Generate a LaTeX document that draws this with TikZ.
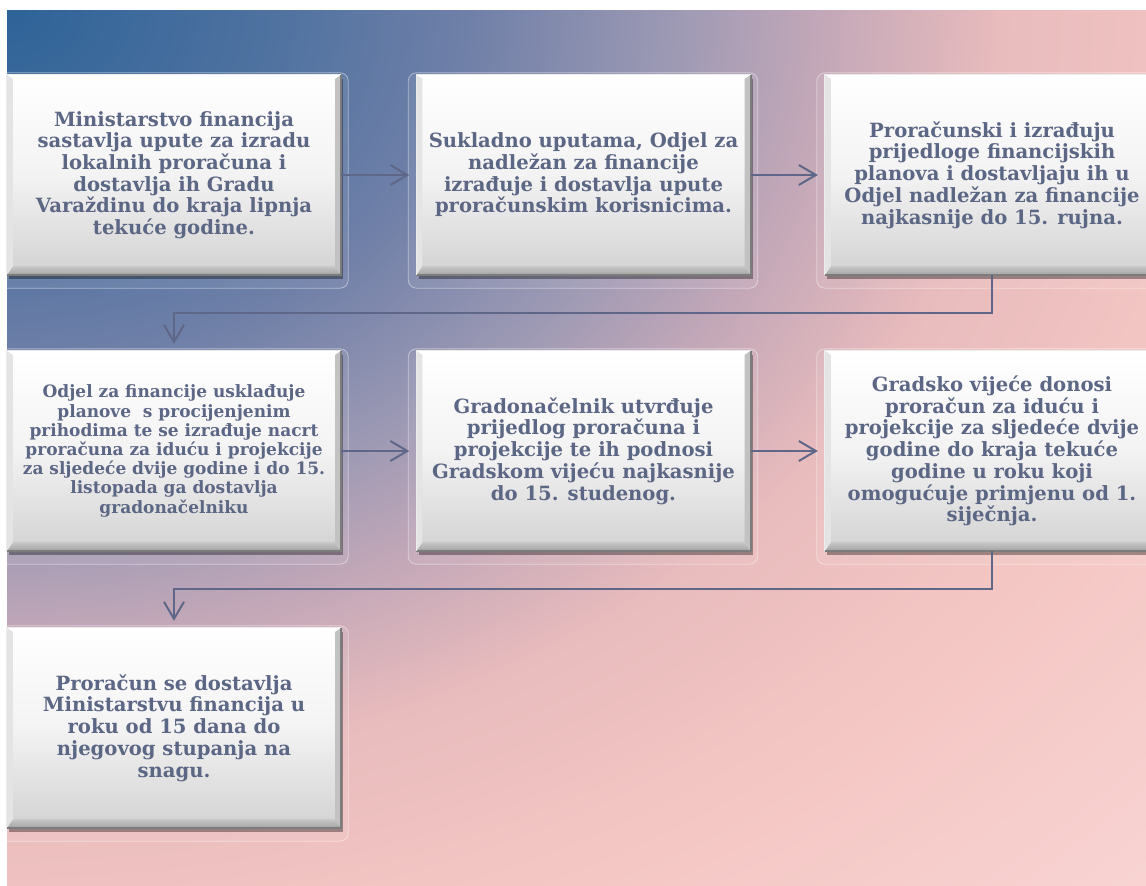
\documentclass[tikz,border=0pt]{standalone}
\usepackage{fontspec}
\setmainfont{DejaVu Serif}
\usetikzlibrary{arrows.meta,shadows,calc}
\definecolor{txt}{HTML}{5C6685}
\definecolor{ln}{HTML}{5E6788}
\definecolor{bgA}{HTML}{2E6398}
\definecolor{bgB}{HTML}{4F72A0}
\definecolor{bgC}{HTML}{7080A8}
\definecolor{bgD}{HTML}{9C99B4}
\definecolor{bgE}{HTML}{C4A8B8}
\definecolor{bgF}{HTML}{E8BBBD}
\definecolor{bgG}{HTML}{F4C6C3}
\definecolor{bgH}{HTML}{FADCDC}
\definecolor{boxbot}{HTML}{D2D2D2}
\definecolor{boxmid}{HTML}{F3F3F3}
\definecolor{bevbt}{HTML}{C8C8C8}
\definecolor{bevbb}{HTML}{A2A2A2}
\definecolor{bevr}{HTML}{C2C2C2}
\definecolor{bevl}{HTML}{E4E4E4}
\definecolor{edge}{HTML}{7C7C7C}
\pgfdeclareradialshading{bgsh}{\pgfpoint{0bp}{0bp}}{color(0bp)=(bgA); color(3.9bp)=(bgB); color(6.8bp)=(bgC); color(9.7bp)=(bgD); color(12bp)=(bgE); color(14.5bp)=(bgF); color(18.2bp)=(bgG); color(27bp)=(bgH); color(50bp)=(bgH)}
\newcommand\bev[1]{%
  \shade[top color=bevbt, bottom color=bevbb] (#1.south west) -- (#1.south east) -- ($(#1.south east)+(-6,-9)$) -- ($(#1.south west)+(6,-9)$) -- cycle;
  \fill[bevr] (#1.north east) -- (#1.south east) -- ($(#1.south east)+(-6,-9)$) -- ($(#1.north east)+(-6,4)$) -- cycle;
  \fill[bevl] (#1.north west) -- (#1.south west) -- ($(#1.south west)+(6,-9)$) -- ($(#1.north west)+(6,4)$) -- cycle;
  \draw[edge, line width=1.6pt] (#1.south west) -- (#1.south east) -- (#1.north east);
  \draw[white!85!gray, line width=0.8pt] (#1.south west) -- (#1.north west) -- (#1.north east);
}
\newcommand\frm[1]{%
  \draw[white, draw opacity=.45, fill=white, fill opacity=.07, line width=0.8pt, rounded corners=8pt]
    ($(#1.north west)+(-8,-2)$) rectangle ($(#1.south east)+(7,13)$);
}
\begin{document}
\begin{tikzpicture}[x=1pt,y=-1pt,
  box/.style={rectangle, minimum width=334pt, minimum height=200pt, inner sep=0pt,
    top color=white, bottom color=boxbot, middle color=boxmid,
    drop shadow={shadow xshift=2pt, shadow yshift=-4pt, opacity=.35, fill=black}},
  big/.style={text=txt, align=center, font=\bfseries\fontsize{19.6}{21.7}\selectfont},
  small/.style={text=txt, align=center, font=\bfseries\fontsize{17}{19.2}\selectfont},
  conn/.style={draw=ln, line width=2pt, -{Straight Barb[length=17pt,width=20pt,line width=2pt]}, shorten >=7pt}]
\useasboundingbox (0,0) rectangle (1146,886);
\fill[white] (0,0) rectangle (1146,886);
\begin{scope}
\clip (7,10) rectangle (1146,886);
\shade[shading=bgsh] (-1701.5,-1304) rectangle (1715.5,1324);
\end{scope}
\path (174,175) coordinate (p1) (583.5,175) coordinate (p2) (992,175) coordinate (p3)
      (174,451) coordinate (p4) (583.5,451) coordinate (p5) (992,451) coordinate (p6)
      (174,728) coordinate (p7);
\begin{scope}[every node/.style={minimum width=334pt,minimum height=200pt,inner sep=0pt}]
\path (p1) node (f1) {} (p2) node (f2) {} (p3) node (f3) {} (p4) node (f4) {}
      (p5) node (f5) {} (p6) node (f6) {} (p7) node (f7) {};
\end{scope}
\frm{f1}\frm{f2}\frm{f3}\frm{f4}\frm{f5}\frm{f6}\frm{f7}
\node[box] (b1) at (p1) {};
\node[box] (b2) at (p2) {};
\node[box] (b3) at (p3) {};
\node[box] (b4) at (p4) {};
\node[box] (b5) at (p5) {};
\node[box] (b6) at (p6) {};
\node[box] (b7) at (p7) {};
\bev{b1}\bev{b2}\bev{b3}\bev{b4}\bev{b5}\bev{b6}\bev{b7}
\node[big] (t1) at (p1) {Ministarstvo financija\\ sastavlja upute za izradu\\ lokalnih proračuna i\\ dostavlja ih Gradu\\ Varaždinu do kraja lipnja\\ tekuće godine.};
\node[big] (t2) at (p2) {Sukladno uputama, Odjel za\\ nadležan za financije\\ izrađuje i dostavlja upute\\ proračunskim korisnicima.};
\node[big] (t3) at (p3) {Proračunski i izrađuju\\ prijedloge financijskih\\ planova i dostavljaju ih u\\ Odjel nadležan za financije\\ najkasnije do 15. rujna.};
\node[small] (t4) at (p4) {Odjel za financije usklađuje\\ planove\ \ s procijenjenim\\ prihodima te se izrađuje nacrt\\ proračuna za iduću i projekcije\\ za sljedeće dvije godine i do 15.\\ listopada ga dostavlja\\ gradonačelniku};
\node[big] (t5) at (p5) {Gradonačelnik utvrđuje\\ prijedlog proračuna i\\ projekcije te ih podnosi\\ Gradskom vijeću najkasnije\\ do 15. studenog.};
\node[big] (t6) at (p6) {Gradsko vijeće donosi\\ proračun za iduću i\\ projekcije za sljedeće dvije\\ godine do kraja tekuće\\ godine u roku koji\\ omogućuje primjenu od 1.\\ siječnja.};
\node[big] (t7) at (p7) {Proračun se dostavlja\\ Ministarstvu financija u\\ roku od 15 dana do\\ njegovog stupanja na\\ snagu.};
\draw[conn] (b1.east) -- (b2.west);
\draw[conn] (b2.east) -- (b3.west);
\draw[conn] (b4.east) -- (b5.west);
\draw[conn] (b5.east) -- (b6.west);
\draw[conn] (b3.south) -- ++(0,38) -| (b4.north);
\draw[conn] (b6.south) -- ++(0,38) -| (b7.north);
\end{tikzpicture}
\end{document}
